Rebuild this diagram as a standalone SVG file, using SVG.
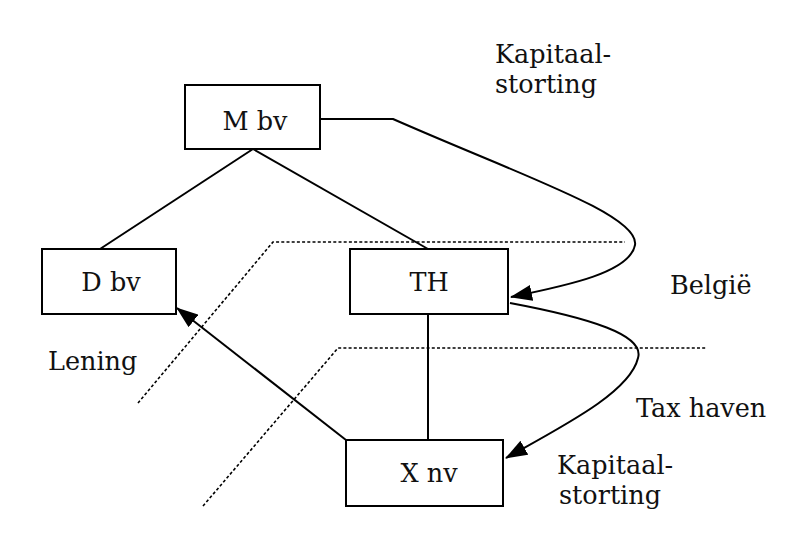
<svg xmlns="http://www.w3.org/2000/svg" width="800" height="542" viewBox="0 0 800 542">
<defs>
<style>
.box{fill:#fff;stroke:#000;stroke-width:2}
.ln{fill:none;stroke:#000;stroke-width:2}
.dot{fill:none;stroke:#000;stroke-width:1.6;stroke-dasharray:3 2.2}
text{font-family:"DejaVu Serif","Liberation Serif",serif;font-size:25.5px;fill:#111}
.c{text-anchor:middle}
</style>
<marker id="ah" viewBox="0 0 22 16" refX="21" refY="8" markerWidth="22" markerHeight="16" markerUnits="userSpaceOnUse" orient="auto">
<path d="M0,0 L22,8 L0,16 Z" fill="#000"/>
</marker>
</defs>
<rect width="800" height="542" fill="#fff"/>
<g id="zones">
<polyline class="dot" points="138,403 273,242 625,242"/>
<polyline class="dot" points="203,506 338,348 707,348"/>
</g>
<g id="connectors">
<line class="ln" x1="253" y1="149" x2="100" y2="249"/>
<line class="ln" x1="253" y1="149" x2="428" y2="249"/>
<line class="ln" x1="428" y1="314" x2="428" y2="440"/>
<path class="ln" d="M320,119 L393,119 C520,175 640,215 635,245 C630,272 570,285 511,297" marker-end="url(#ah)"/>
<path class="ln" d="M510,303 C590,318 645,335 638,358 C630,392 565,425 506,458" marker-end="url(#ah)"/>
<line class="ln" x1="346" y1="440" x2="177" y2="308" marker-end="url(#ah)"/>
</g>
<g id="mbv"><rect class="box" x="185" y="85" width="135" height="64"/><text class="c" x="255" y="130">M bv</text></g>
<g id="dbv"><rect class="box" x="42" y="249" width="134" height="65"/><text class="c" x="111" y="291">D bv</text></g>
<g id="th"><rect class="box" x="350" y="249" width="158" height="65"/><text class="c" x="429" y="291">TH</text></g>
<g id="xnv"><rect class="box" x="346" y="440" width="157" height="66"/><text class="c" x="429" y="482">X nv</text></g>
<g id="labels">
<text x="495" y="63">Kapitaal-</text>
<text x="495" y="93">storting</text>
<text x="670" y="294">België</text>
<text x="48" y="370">Lening</text>
<text x="636" y="417">Tax haven</text>
<text x="557" y="474">Kapitaal-</text>
<text x="559" y="504">storting</text>
</g>
</svg>
